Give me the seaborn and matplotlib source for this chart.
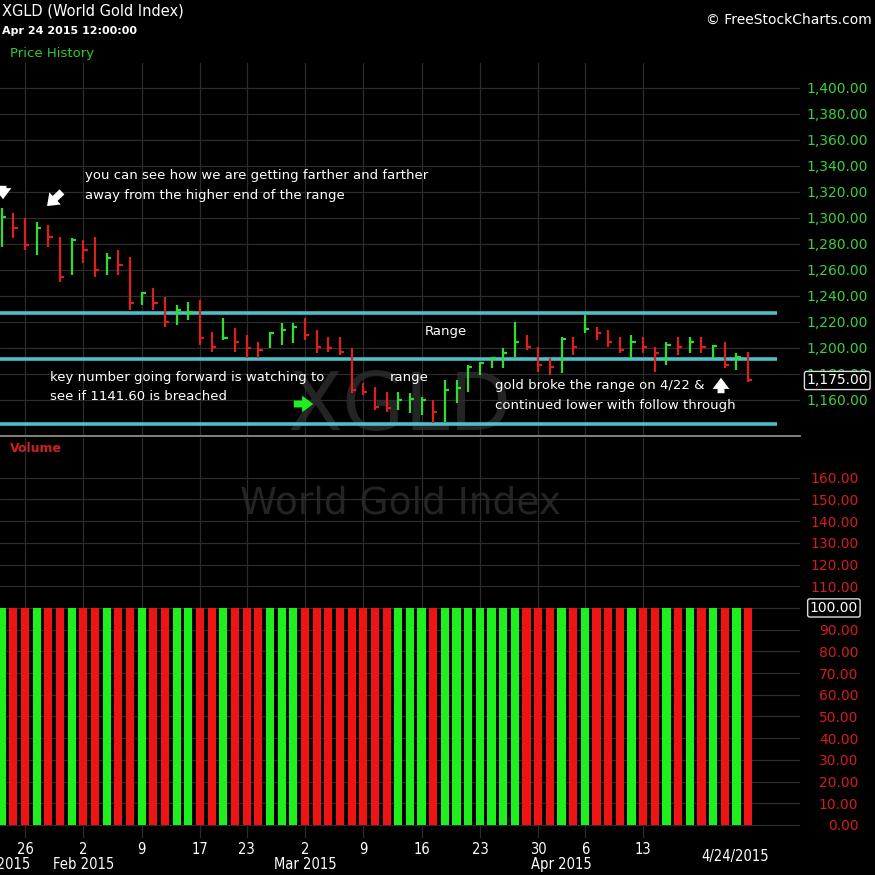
"""XGLD (World Gold Index) daily HLC bars with range lines and volume panel."""

import matplotlib

matplotlib.use("Agg")

import matplotlib.pyplot as plt
from matplotlib.transforms import blended_transform_factory
import numpy as np
import pandas as pd
import seaborn as sns

# trading days Jan 22 - Apr 24 2015 (Presidents Day and Good Friday closed)
dates = pd.bdate_range("2015-01-22", "2015-04-24", freq="C",
                       holidays=["2015-02-16", "2015-04-03"])

high = [1307.7, 1303.8, 1300.0, 1297.0, 1294.6, 1285.4, 1284.6, 1283.1, 1285.4, 1273.1,
        1275.4, 1270.0, 1243.1, 1246.2, 1239.2, 1233.1, 1235.4, 1236.9, 1212.3, 1223.1,
        1215.4, 1210.0, 1204.6, 1212.3, 1219.2, 1219.2, 1223.1, 1213.8, 1208.5, 1208.5,
        1200.0, 1173.1, 1170.0, 1166.2, 1166.2, 1165.4, 1162.3, 1160.0, 1175.4, 1175.4,
        1187.0, 1189.2, 1193.0, 1200.0, 1220.0, 1210.0, 1200.8, 1192.3, 1208.5, 1208.5,
        1225.4, 1216.2, 1213.8, 1208.5, 1210.0, 1208.5, 1200.8, 1204.6, 1208.5, 1208.5,
        1208.5, 1202.3, 1204.6, 1196.2, 1196.9]
low = [1277.7, 1284.6, 1275.4, 1271.5, 1277.7, 1250.8, 1256.2, 1265.4, 1254.6, 1256.2,
       1256.2, 1229.2, 1233.1, 1229.2, 1216.2, 1217.7, 1221.5, 1202.3, 1197.0, 1206.2,
       1197.0, 1192.3, 1192.3, 1200.0, 1202.3, 1203.8, 1206.2, 1196.2, 1197.0, 1194.6,
       1165.4, 1163.8, 1152.3, 1151.0, 1152.3, 1150.0, 1148.5, 1142.0, 1143.0, 1157.7,
       1166.2, 1179.2, 1184.6, 1184.6, 1193.0, 1198.5, 1181.5, 1179.2, 1180.8, 1194.6,
       1211.5, 1206.2, 1200.8, 1196.2, 1192.3, 1196.2, 1181.5, 1187.0, 1194.6, 1196.2,
       1196.2, 1192.3, 1184.6, 1183.1, 1173.8]
close = [1300.8, 1292.3, 1279.2, 1292.3, 1285.4, 1254.6, 1283.1, 1275.4, 1260.0, 1269.2,
         1263.8, 1234.6, 1242.3, 1234.6, 1220.0, 1229.2, 1227.7, 1207.7, 1200.8, 1207.7,
         1204.6, 1200.0, 1198.5, 1211.5, 1213.8, 1216.2, 1210.0, 1200.8, 1200.0, 1197.0,
         1167.7, 1166.2, 1154.6, 1153.8, 1160.0, 1161.0, 1160.0, 1150.8, 1167.7, 1169.2,
         1185.4, 1188.5, 1192.3, 1196.2, 1204.6, 1200.8, 1186.9, 1185.4, 1207.0, 1200.8,
         1214.6, 1211.5, 1204.6, 1198.5, 1204.6, 1200.8, 1196.2, 1202.3, 1200.8, 1204.6,
         1200.8, 1201.5, 1186.9, 1193.0, 1175.0]
# 1 = green bar, 0 = red bar
up = [1, 0, 0, 1, 0, 0, 1, 0, 0, 1, 0, 0, 1, 0, 0, 1, 1, 0, 0, 1,
      0, 0, 0, 1, 1, 1, 0, 0, 0, 0, 0, 0, 0, 0, 1, 1, 1, 0, 1, 1,
      1, 1, 1, 1, 1, 0, 0, 0, 1, 0, 1, 0, 0, 0, 1, 0, 0, 1, 0, 1,
      0, 1, 0, 1, 0]
volume = [100.0] * 65

range_levels = [1226.9, 1191.5, 1141.6]
last_close = 1175.0
last_volume = 100.0

day_ticks = ["2015-01-26", "2015-02-02", "2015-02-09", "2015-02-17", "2015-02-23",
             "2015-03-02", "2015-03-09", "2015-03-16", "2015-03-23", "2015-03-30",
             "2015-04-06", "2015-04-13"]
day_labels = ["26", "2", "9", "17", "23", "2", "9", "16", "23", "30", "6", "13"]
month_ticks = ["2015-01-22", "2015-02-02", "2015-03-02", "2015-04-01"]
month_labels = ["Jan 2015", "Feb 2015", "Mar 2015", "Apr 2015"]

GREEN = "#2fdc2f"
RED = "#dc2020"
VGREEN = "#1ef01e"
VRED = "#ee1414"
CYAN = "#4cbfc7"
GRID = "#2c2c2c"
WATERMARK = "#242424"

sns.set_style("dark", {"axes.facecolor": "black", "figure.facecolor": "black",
                       "grid.color": GRID, "text.color": "white"})
plt.rcParams["font.family"] = ["DejaVu Sans"]
XFONT = dict(fontsize=10.5, color="white", fontstretch="condensed")

x = np.arange(len(dates))
pos = {d.strftime("%Y-%m-%d"): i for i, d in enumerate(dates)}
day_pos = [pos[d] for d in day_ticks]
month_pos = [pos[d] for d in month_ticks]
cols = [GREEN if u else RED for u in up]

W, H = 875, 875
fig = plt.figure(figsize=(W / 100, H / 100), dpi=100)
ax_p = fig.add_axes([0, 1 - 436 / H, 800 / W, 373 / H])
ax_v = fig.add_axes([0, 1 - 838 / H, 800 / W, 400 / H])
ax_v.patch.set_facecolor("none")

xlim = (-0.15, 68.45)

# ---- price panel
ax_p.text(400 / W, 1 - 408 / H, "XGLD", transform=fig.transFigure, ha="center",
          va="center", fontsize=58, color=WATERMARK, zorder=0.5)
ax_p.vlines(x, low, high, colors=cols, lw=1.6, zorder=3)
ax_p.hlines(close, x, x + 0.36, colors=cols, lw=1.6, zorder=3)
ax_p.hlines(range_levels, -0.15, 66.5, colors=CYAN, lw=2.6, zorder=2.5)
ax_p.set_xlim(*xlim)
ax_p.set_ylim(1132.3, 1419.2)
pticks = np.arange(1160, 1401, 20)
ax_p.yaxis.tick_right()
ax_p.set_yticks(pticks, labels=[f"{v:,.2f}" for v in pticks], ha="right")
ax_p.tick_params(axis="y", length=0, pad=49, labelcolor="#3ad23a", labelsize=10)
ax_p.set_xticks(day_pos, labels=[])
ax_p.tick_params(axis="x", length=0)
ax_p.grid(True, color=GRID, lw=0.9)
for s in ax_p.spines.values():
    s.set_visible(False)
ax_p.spines["bottom"].set_visible(True)
ax_p.spines["bottom"].set_color("#8c8c8c")
ax_p.spines["bottom"].set_linewidth(1.3)
ax_p.text(868 / 800, last_close, f"{last_close:,.2f}",
          transform=blended_transform_factory(ax_p.transAxes, ax_p.transData),
          ha="right", va="center", color="white", fontsize=10, zorder=5, clip_on=False,
          bbox=dict(boxstyle="round,pad=0.15", fc="black", ec="#dddddd", lw=1))

# ---- volume panel
ax_v.text(400 / W, 1 - 503 / H, "World Gold Index", transform=fig.transFigure,
          ha="center", va="center", fontsize=27, color=WATERMARK, zorder=0.5)
vol_df = pd.DataFrame({"idx": x, "volume": volume,
                       "dir": ["up" if u else "down" for u in up]})
sns.barplot(data=vol_df, x="idx", y="volume", hue="dir", native_scale=True,
            palette={"up": VGREEN, "down": VRED}, width=0.7, saturation=1,
            dodge=False, errorbar=None, legend=False, linewidth=0, ax=ax_v)
ax_v.set_xlim(*xlim)
ax_v.set_ylim(-6.0, 178.3)
vticks = np.arange(0, 161, 10)
ax_v.yaxis.tick_right()
ax_v.set_yticks(vticks, labels=[f"{v:.2f}" for v in vticks], ha="right")
ax_v.tick_params(axis="y", length=0, pad=42, labelcolor="#d41c1c", labelsize=10)
ax_v.set_xlabel("")
ax_v.set_ylabel("")
ax_v.xaxis.remove_overlapping_locs = False
ax_v.set_xticks(day_pos, labels=day_labels, **XFONT)
ax_v.set_xticks(month_pos, labels=month_labels, minor=True, **XFONT)
ax_v.tick_params(axis="x", which="major", length=0, pad=3)
ax_v.tick_params(axis="x", which="minor", length=0, pad=14)
ax_v.grid(True, which="major", color=GRID, lw=0.9)
ax_v.grid(False, which="minor")
ax_v.set_axisbelow(True)
for s in ax_v.spines.values():
    s.set_visible(False)
ax_v.text(858 / 800, last_volume, f"{last_volume:.2f}",
          transform=blended_transform_factory(ax_v.transAxes, ax_v.transData),
          ha="right", va="center", color="white", fontsize=10, zorder=5, clip_on=False,
          bbox=dict(boxstyle="round,pad=0.15", fc="black", ec="#dddddd", lw=1))


def fx(px, py):
    return px / W, 1 - py / H


# ---- header / labels
fig.text(*fx(2, 11), "XGLD (World Gold Index)", color="white", fontsize=10.5, va="center")
fig.text(*fx(2, 31), "Apr 24 2015 12:00:00", color="white", fontsize=8,
         fontweight="bold", va="center")
fig.text(*fx(10, 53), "Price History", color="#2ecc2e", fontsize=9.5, va="center")
fig.text(*fx(872, 20), "\u00a9 FreeStockCharts.com", color="white", fontsize=10,
         ha="right", va="center")
fig.text(*fx(10, 449), "Volume", color="#cc2020", fontsize=9, fontweight="bold",
         va="center")
fig.text(*fx(735, 857), "4/24/2015", va="center", ha="center", **XFONT)

# ---- annotations
notes = [
    (85, 176, "you can see how we are getting farther and farther"),
    (85, 196, "away from the higher end of the range"),
    (425, 331, "Range"),
    (50, 378, "key number going forward is watching to"),
    (50, 397, "see if 1141.60 is breached"),
    (390, 378, "range"),
    (495, 386, "gold broke the range on 4/22 &"),
    (495, 406, "continued lower with follow through"),
]
for nx, ny, s in notes:
    fig.text(*fx(nx, ny), s, color="white", fontsize=9.5, va="center")

arrows = [
    ((3, 183), (3, 202), "white"),
    ((64, 190), (45, 208), "white"),
    ((291, 404), (316, 404), VGREEN),
    ((721, 396), (721, 375), "white"),
]
for (tx, ty), (hx, hy), c in arrows:
    ax_p.annotate("", xy=(hx, H - hy), xycoords="figure pixels",
                  xytext=(tx, H - ty), textcoords="figure pixels",
                  arrowprops=dict(arrowstyle="simple,head_width=1.2,head_length=0.8,tail_width=0.5",
                                  color=c, lw=0), annotation_clip=False, zorder=6)

fig.savefig("out.png", dpi=100, facecolor="black")
